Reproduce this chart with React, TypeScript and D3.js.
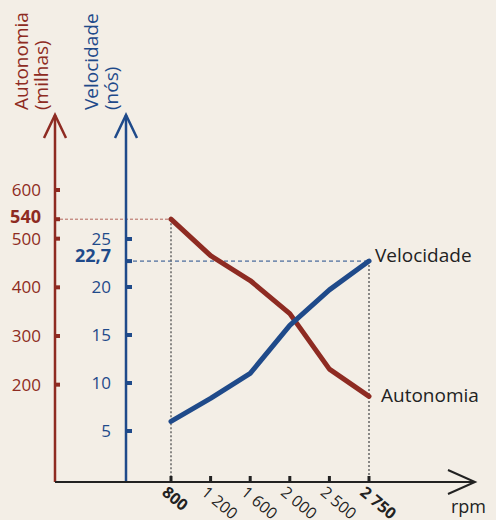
import * as d3 from "d3";

const rpm = ["800", "1 200", "1 600", "2 000", "2 500", "2 750"];
const autonomia = [540, 465, 414, 346, 232, 176];
const velocidade = [6, 8.4, 11, 16, 19.7, 22.7];
const autonomiaTicks = [200, 300, 400, 500, 600];
const velocidadeTicks = [5, 10, 15, 20, 25];
const boldRpm = ["800", "2 750"];

const RED = "#8e2b22";
const BLUE = "#1f4a8a";
const INK = "#222";
const FONT = "'Open Sans', 'Noto Sans', sans-serif";

export default function App() {
  const width = 496;
  const height = 520;
  const redX = 55;
  const blueX = 126;
  const baseY = 482;
  const topY = 115;

  const x = d3.scalePoint<string>().domain(rpm).range([171, 369]);
  const yA = d3.scaleLinear().domain([0, 600]).range([baseY, 190]);
  const yV = d3.scaleLinear().domain([0, 25]).range([479, 239]);

  const lineA = d3
    .line<number>()
    .x((_, i) => x(rpm[i])!)
    .y((d) => yA(d));
  const lineV = d3
    .line<number>()
    .x((_, i) => x(rpm[i])!)
    .y((d) => yV(d));

  const first = rpm[0];
  const last = rpm[rpm.length - 1];
  const aMax = autonomia[0];
  const vMax = velocidade[velocidade.length - 1];

  const arrowUp = (cx: number) =>
    `M${cx - 11},${topY + 23} L${cx},${topY} L${cx + 11},${topY + 23}`;

  return (
    <svg
      width={width}
      height={height}
      style={{ position: "fixed", left: 0, top: 0, background: "#f3eee6" }}
      fontFamily={FONT}
    >
      <rect width={width} height={height} fill="#f3eee6" />

      {/* axis titles */}
      <g fill={RED} fontSize={19}>
        <text transform="translate(28,110) rotate(-90)">Autonomia</text>
        <text transform="translate(48,110) rotate(-90)">(milhas)</text>
      </g>
      <g fill={BLUE} fontSize={19}>
        <text transform="translate(98,110) rotate(-90)">Velocidade</text>
        <text transform="translate(118,110) rotate(-90)">(nós)</text>
      </g>

      {/* guide lines */}
      <line
        x1={redX}
        x2={x(first)! - 3}
        y1={yA(aMax)}
        y2={yA(aMax)}
        stroke="#b3655c"
        strokeWidth={1}
        strokeDasharray="3,2"
      />
      <line
        x1={blueX}
        x2={x(last)!}
        y1={yV(vMax)}
        y2={yV(vMax)}
        stroke={BLUE}
        strokeWidth={1}
        strokeDasharray="4,3"
      />
      <line
        x1={x(first)}
        x2={x(first)}
        y1={yA(aMax)}
        y2={baseY}
        stroke="#666"
        strokeWidth={1.5}
        strokeDasharray="2,2"
      />
      <line
        x1={x(last)}
        x2={x(last)}
        y1={yV(vMax)}
        y2={baseY}
        stroke="#666"
        strokeWidth={1.5}
        strokeDasharray="2,2"
      />

      {/* red axis */}
      <line x1={redX} x2={redX} y1={topY} y2={baseY} stroke={RED} strokeWidth={2.5} />
      <path d={arrowUp(redX)} fill="none" stroke={RED} strokeWidth={2.5} />
      {[...autonomiaTicks, aMax].map((t) => (
        <rect key={t} x={redX} y={yA(t) - 2} width={5} height={4} fill={RED} />
      ))}
      <g fill={RED} fontSize={17} textAnchor="end">
        {autonomiaTicks.map((t) => (
          <text key={t} x={41} y={yA(t) + 6}>
            {t}
          </text>
        ))}
        <text x={41} y={yA(aMax) + 3.5} fontWeight="bold" fontSize={18}>
          {aMax}
        </text>
      </g>

      {/* blue axis */}
      <line x1={blueX} x2={blueX} y1={topY} y2={baseY} stroke={BLUE} strokeWidth={2.5} />
      <path d={arrowUp(blueX)} fill="none" stroke={BLUE} strokeWidth={2.5} />
      {[...velocidadeTicks, vMax].map((t) => (
        <rect key={t} x={blueX} y={yV(t) - 2} width={6} height={4} fill={BLUE} />
      ))}
      <g fill={BLUE} fontSize={17} textAnchor="end">
        {velocidadeTicks.map((t) => (
          <text key={t} x={111} y={yV(t) + 6}>
            {t}
          </text>
        ))}
        <text x={111} y={yV(vMax) + 1} fontWeight="bold" fontSize={18}>
          {String(vMax).replace(".", ",")}
        </text>
      </g>

      {/* x axis */}
      <line x1={redX} x2={475} y1={baseY} y2={baseY} stroke={INK} strokeWidth={2} />
      <path
        d={`M448,${baseY - 12} L475,${baseY} L448,${baseY + 12}`}
        fill="none"
        stroke={INK}
        strokeWidth={2}
      />
      {rpm.map((r) => (
        <rect key={r} x={x(r)! - 1.5} y={baseY - 6} width={3} height={6} fill={INK} />
      ))}
      <g fill={INK} fontSize={16}>
        {rpm.map((r) => (
          <text
            key={r}
            transform={`translate(${x(r)! - 10},${baseY + 12}) rotate(40)`}
            fontWeight={boldRpm.includes(r) ? "bold" : "normal"}
          >
            {r}
          </text>
        ))}
      </g>
      <text x={451} y={513} fontSize={18} fill={INK}>
        rpm
      </text>

      {/* data lines */}
      <path
        d={lineA(autonomia)!}
        fill="none"
        stroke={RED}
        strokeWidth={5}
        strokeLinejoin="round"
        strokeLinecap="round"
      />
      <path
        d={lineV(velocidade)!}
        fill="none"
        stroke={BLUE}
        strokeWidth={5}
        strokeLinejoin="round"
        strokeLinecap="round"
      />

      {/* series labels */}
      <text x={x(last)! + 6} y={yV(vMax) + 1} fontSize={19} fill={INK}>
        Velocidade
      </text>
      <text x={x(last)! + 12} y={yA(autonomia[autonomia.length - 1]) + 6} fontSize={19} fill={INK}>
        Autonomia
      </text>
    </svg>
  );
}
